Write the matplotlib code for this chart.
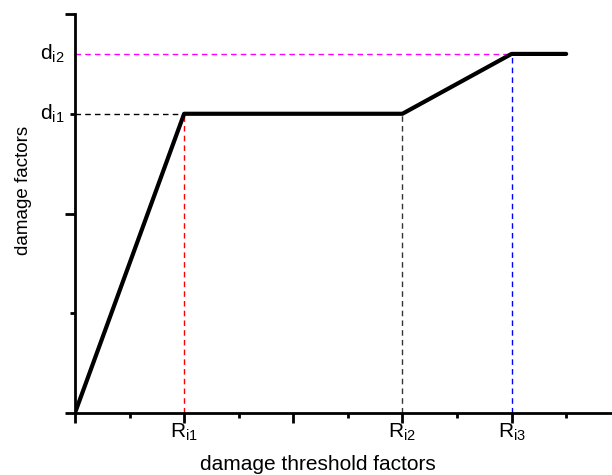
import matplotlib
matplotlib.use("Agg")
import matplotlib.pyplot as plt
from matplotlib.ticker import MultipleLocator

plt.rcParams['font.family'] = ['Liberation Sans', 'DejaVu Sans']
plt.rcParams['mathtext.default'] = 'regular'

# damage curve vertices (threshold factor, damage factor)
curve_x = [0, 1, 3, 4, 4.5]
curve_y = [0, 1.5, 1.5, 1.8, 1.8]

# labelled thresholds and damage levels
R_vals = [1, 3, 4]
R_labels = ['R$_{i1}$', 'R$_{i2}$', 'R$_{i3}$']
R_colors = ['red', '#333333', 'blue']
R_tops = [1.5, 1.5, 1.8]
d_vals = [1.5, 1.8]
d_labels = ['d$_{i1}$', 'd$_{i2}$']
d_ends = [1, 4]
d_colors = ['black', 'magenta']

fig = plt.figure(figsize=(6.12, 4.75), dpi=100)
ax = fig.add_axes([0.1225, 0.1305, 0.8775, 0.84])

for xv, top, c in zip(R_vals, R_tops, R_colors):
    ax.plot([xv, xv], [0, top], color=c, linestyle='--', linewidth=1, dashes=(4, 3))
for yv, end, c in zip(d_vals, d_ends, d_colors):
    ax.plot([0, end], [yv, yv], color=c, linestyle='--', linewidth=1, dashes=(4, 3))

ax.plot(curve_x, curve_y, color='black', linewidth=3, solid_capstyle='round')

ax.set_xlim(0, 4.92)
ax.set_ylim(0, 2.0)

for s in ['top', 'right']:
    ax.spines[s].set_visible(False)
for s in ['left', 'bottom']:
    ax.spines[s].set_linewidth(2)
    ax.spines[s].set_clip_on(False)

ax.xaxis.set_major_locator(MultipleLocator(1))
ax.xaxis.set_minor_locator(MultipleLocator(0.5))
ax.yaxis.set_major_locator(MultipleLocator(1))
ax.yaxis.set_minor_locator(MultipleLocator(0.5))
ax.tick_params(which='major', direction='out', length=7, width=2)
ax.tick_params(which='minor', direction='out', length=3.5, width=2)
ax.tick_params(axis='both', labelbottom=False, labelleft=False)

for xv, lab in zip(R_vals, R_labels):
    ax.text(xv, -0.045, lab, ha='center', va='top', fontsize=15)
for yv, lab in zip(d_vals, d_labels):
    ax.text(-0.1, yv, lab, ha='right', va='center', fontsize=15)

ax.set_xlabel('damage threshold factors', fontsize=15)
ax.xaxis.set_label_coords(0.4525, -0.105)
ax.set_ylabel('damage factors', fontsize=13.5)
ax.yaxis.set_label_coords(-0.08, 0.559)

fig.savefig('out.png', dpi=100)
